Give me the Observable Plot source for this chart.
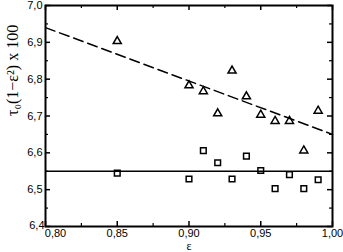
<!DOCTYPE html>
<html><head><meta charset="utf-8">
<script src="https://cdn.jsdelivr.net/npm/d3@7"></script>
<script src="https://cdn.jsdelivr.net/npm/@observablehq/plot@0.6"></script>
<style>body{margin:0;background:#fff}</style>
</head><body><div id="chart"></div>
<script>
const eps = [0.85, 0.90, 0.91, 0.92, 0.93, 0.94, 0.95, 0.96, 0.97, 0.98, 0.99];
const triangles = [6.903, 6.783, 6.767, 6.707, 6.823, 6.753, 6.703, 6.686, 6.686, 6.606, 6.714];
const squares = [6.545, 6.529, 6.606, 6.573, 6.529, 6.591, 6.552, 6.503, 6.541, 6.503, 6.527];
const fitX = [0.80, 1.00];
const fitY = [6.94, 6.65];
const constLevel = 6.55;
const xMajor = [0.80, 0.85, 0.90, 0.95, 1.00];
const xMinor = [0.825, 0.875, 0.925, 0.975];
const yMajor = [6.4, 6.5, 6.6, 6.7, 6.8, 6.9, 7.0];
const yMinor = [6.45, 6.55, 6.65, 6.75, 6.85, 6.95];

const W = 343, H = 252, mT = 5, mB = 26, mL = 45, mR = 11;
const pH = H - mT - mB, pW = W - mL - mR;
const fmt = d => d3.format(".2f")(d).replace(".", ",");
const fmtY = d => d3.format(".1f")(d).replace(".", ",");
const font = "Liberation Sans, Arial, Helvetica, sans-serif";
const serif = "Liberation Serif, Times New Roman, serif";

const tri = eps.map((e, i) => ({e, v: triangles[i]}));
const sq = eps.map((e, i) => ({e, v: squares[i]}));
const fit = fitX.map((x, i) => ({x, y: fitY[i]}));

const chart = Plot.plot({
  width: W, height: H,
  marginTop: mT, marginBottom: mB, marginLeft: mL, marginRight: mR,
  style: {fontFamily: font, fontSize: "11px", color: "#000", background: "#fff"},
  x: {domain: [0.80, 1.00]},
  y: {domain: [6.4, 7.0]},
  marks: [
    Plot.axisX(xMajor.slice(1), {tickSize: 0, tickPadding: 3, tickFormat: fmt, label: null, fontSize: 11}),
    Plot.axisX(xMajor.slice(0, 1), {tickSize: 0, tickPadding: 3, tickFormat: fmt, label: null, fontSize: 11, dx: 10}),
    Plot.axisY(yMajor.slice(1), {tickSize: 0, tickPadding: 3, tickFormat: fmtY, label: null, fontSize: 11}),
    Plot.axisY(yMajor.slice(0, 1), {tickSize: 0, tickPadding: 1, tickFormat: fmtY, label: null, fontSize: 11, dy: -1}),
    Plot.tickX(xMajor, {x: d => d, insetTop: pH - 5, stroke: "#000", strokeWidth: 1.5}),
    Plot.tickX(xMajor, {x: d => d, insetBottom: pH - 5, stroke: "#000", strokeWidth: 1.5}),
    Plot.tickX(xMinor, {x: d => d, insetTop: pH - 3, stroke: "#000", strokeWidth: 1.2}),
    Plot.tickX(xMinor, {x: d => d, insetBottom: pH - 3, stroke: "#000", strokeWidth: 1.2}),
    Plot.tickY(yMajor, {y: d => d, insetRight: pW - 5, stroke: "#000", strokeWidth: 1.5}),
    Plot.tickY(yMajor, {y: d => d, insetLeft: pW - 5, stroke: "#000", strokeWidth: 1.5}),
    Plot.tickY(yMinor, {y: d => d, insetRight: pW - 3, stroke: "#000", strokeWidth: 1.2}),
    Plot.tickY(yMinor, {y: d => d, insetLeft: pW - 3, stroke: "#000", strokeWidth: 1.2}),
    Plot.ruleY([constLevel], {stroke: "#000", strokeWidth: 1.5}),
    Plot.line(fit, {x: "x", y: "y", stroke: "#000", strokeWidth: 1.5, strokeDasharray: "10,5"}),
    Plot.dot(tri, {x: "e", y: "v", symbol: "triangle", r: 3, stroke: "#000", strokeWidth: 1.5, fill: "none"}),
    Plot.dot(sq, {x: "e", y: "v", symbol: "square", r: 3.2, stroke: "#000", strokeWidth: 1.5, fill: "none"}),
    Plot.frame({stroke: "#000", strokeWidth: 2}),
    Plot.text(["τ₀(1−ε²) x 100"], {frameAnchor: "left", lineAnchor: "middle", dx: -33, rotate: -90, fontFamily: serif, fontSize: 16, fill: "#000"}),
    Plot.text(["ε"], {frameAnchor: "bottom", lineAnchor: "middle", dy: 20, fontFamily: serif, fontSize: 12, fill: "#000"})
  ]
});
document.getElementById("chart").appendChild(chart);
</script>
</body></html>
